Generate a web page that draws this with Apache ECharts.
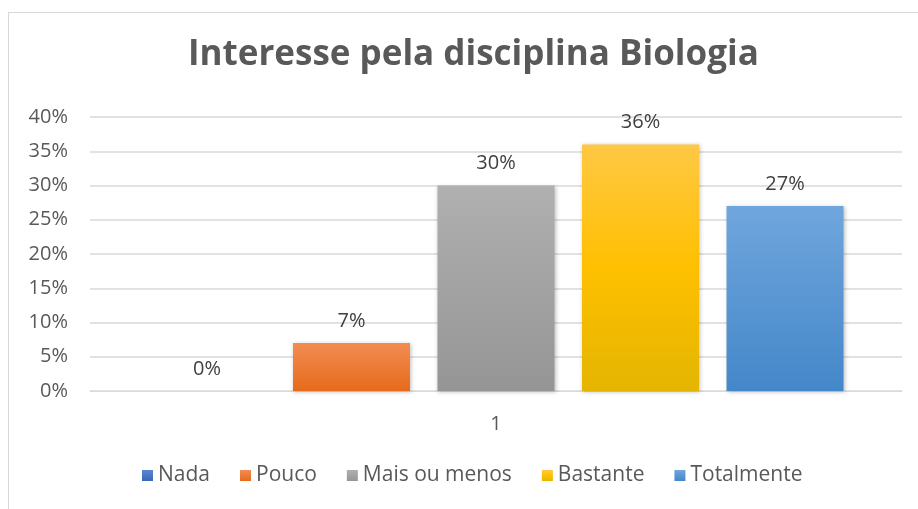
<!DOCTYPE html>
<html>
<head>
<meta charset="utf-8">
<script src="https://cdn.jsdelivr.net/npm/echarts@6/dist/echarts.min.js"></script>
<style>
  html, body { margin: 0; padding: 0; background: #fff; }
  #frame { position: absolute; left: 8px; top: 12px; width: 930px; height: 520px; border: 1px solid #d9d9d9; }
  #chart { width: 918px; height: 509px; position: absolute; left: 0; top: 0; }
</style>
</head>
<body>
<div id="frame"></div>
<div id="chart"></div>
<script>
const categories = ['1']
const seriesNames = ['Nada', 'Pouco', 'Mais ou menos', 'Bastante', 'Totalmente']
const seriesValues = [[0], [7], [30], [36], [27]]
const yTicks = [0, 5, 10, 15, 20, 25, 30, 35, 40]

// excel style gradients, top -> bottom
const fills = [
  ['#5b87d0', '#3a66b8'],
  ['#f28d52', '#e66a1c'],
  ['#b0b0b0', '#959595'],
  ['#ffc845', '#ffc000', '#e4b500'],
  ['#70a6dd', '#4487c9']
]

const grad = (c) => {
  const stops = c.length === 3
    ? [{ offset: 0, color: c[0] }, { offset: 0.5, color: c[1] }, { offset: 1, color: c[2] }]
    : [{ offset: 0, color: c[0] }, { offset: 1, color: c[1] }]
  return new echarts.graphic.LinearGradient(0, 0, 0, 1, stops)
}

const chart = echarts.init(document.getElementById('chart'))
chart.setOption({
  animation: false,
  title: {
    text: 'Interesse pela disciplina Biologia',
    left: 183,
    top: 33,
    textStyle: { fontFamily: 'Open Sans', fontSize: 35, fontWeight: 'bold', color: '#595959' }
  },
  grid: { left: 90, right: 16, top: 117, bottom: 118 },
  legend: {
    bottom: 18,
    left: 137,
    itemWidth: 11,
    itemHeight: 11,
    itemGap: 30,
    icon: 'rect',
    textStyle: { fontFamily: 'Open Sans', fontSize: 21, color: '#595959', padding: [0, 0, 0, 0] },
    data: seriesNames
  },
  xAxis: {
    type: 'category',
    data: categories,
    axisLine: { lineStyle: { color: '#d9d9d9', width: 1 } },
    axisTick: { show: false },
    axisLabel: { fontFamily: 'Open Sans', fontSize: 20, color: '#595959', margin: 23 }
  },
  yAxis: {
    type: 'value',
    min: yTicks[0],
    max: yTicks[yTicks.length - 1],
    interval: 5,
    axisLine: { show: false },
    axisTick: { show: false },
    splitLine: { lineStyle: { color: '#d9d9d9', width: 1.5 } },
    axisLabel: { fontFamily: 'Open Sans', fontSize: 20, color: '#595959', margin: 22, formatter: '{value}%' }
  },
  series: seriesNames.map((name, i) => ({
    name,
    type: 'bar',
    data: seriesValues[i],
    barGap: '23.5%',
    barCategoryGap: '14.4%',
    itemStyle: {
      color: grad(fills[i]),
      shadowColor: 'rgba(0,0,0,0.25)',
      shadowBlur: 4,
      shadowOffsetX: 1,
      shadowOffsetY: 1
    },
    label: {
      show: true,
      position: 'top',
      distance: 12,
      formatter: '{c}%',
      fontFamily: 'Open Sans',
      fontSize: 20,
      color: '#404040'
    }
  }))
})
</script>
</body>
</html>
